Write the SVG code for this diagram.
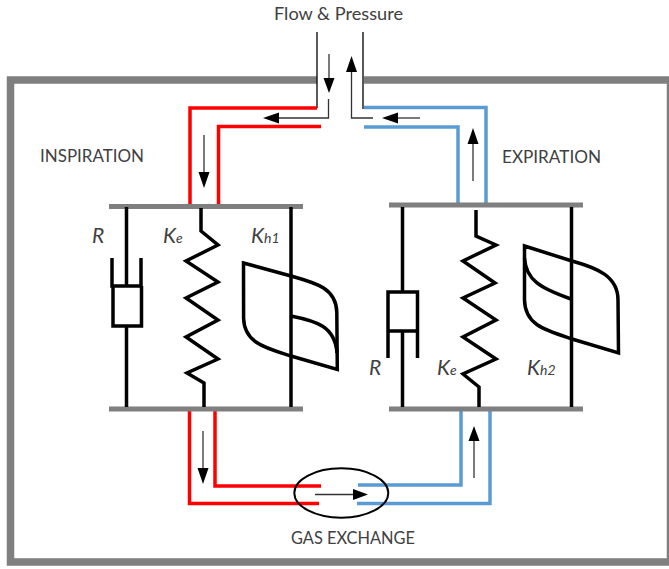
<svg xmlns="http://www.w3.org/2000/svg" width="669" height="569" viewBox="0 0 669 569">
<style>
text{font-family:Lato,"Open Sans","Liberation Sans",sans-serif;fill:#404040;font-size:16.500px}
.sym{font-style:italic;font-size:21px}
.sub{font-style:italic;font-size:14px}
.frame{fill:none;stroke:#7f7f7f;stroke-width:7.500}
.edge{fill:none;stroke:#7f7f7f;stroke-width:2.500}
.bar{fill:none;stroke:#7f7f7f;stroke-width:5}
.red{fill:none;stroke:#ff0000;stroke-width:3.500}
.blue{fill:none;stroke:#5b9bd5;stroke-width:3.500}
.k{fill:none;stroke:#000;stroke-width:3.500;stroke-linejoin:miter}
.thin{fill:none;stroke:#000;stroke-width:1.300}
.ar{fill:none;stroke:#333;stroke-width:1.300}
.hd{fill:#000}
</style>
<rect width="669" height="569" fill="#fff"/>
<g id="frame"><path class="frame" d="M317 80H10.500V562H669"/><path class="frame" d="M364 80H669"/><path class="edge" d="M668 80V562"/></g>
<g id="connectors">
<path class="thin" d="M317 32V108M363 32V109"/>
<path class="red" d="M317 108H190V205"/><path class="red" d="M321 126.500H218.500V205"/>
<path class="blue" d="M364 107.500H486V205"/><path class="blue" d="M364 127H458V204"/>
<path class="red" d="M189.500 411V503.500H319"/><path class="red" d="M215 411V486H321"/>
<path class="blue" d="M358 485H461V410"/><path class="blue" d="M357 503.500H490V410"/>
<path class="ar" d="M329 54V78"/><polygon class="hd" points="329,93 323.500,78 334.500,78"/>
<path class="ar" d="M328.500 99V118H278"/><polygon class="hd" points="263,118 279,112.500 279,123.500"/>
<path class="ar" d="M373 118H351.500V72"/><polygon class="hd" points="351.500,56 346,72 357,72"/>
<path class="ar" d="M420 118H397"/><polygon class="hd" points="382,118 398,112.500 398,123.500"/>
<path class="ar" d="M204 135V172"/><polygon class="hd" points="204,188 198.500,172 209.500,172"/>
<path class="ar" d="M473 181V144"/><polygon class="hd" points="473,128 467.500,144 478.500,144"/>
<path class="ar" d="M203 431V468"/><polygon class="hd" points="203,484 197.500,468 208.500,468"/>
<path class="ar" d="M474 478V441"/><polygon class="hd" points="474,426 468.500,441 479.500,441"/>
<path class="ar" d="M315 494.500H354"/><polygon class="hd" points="368,494.500 353,489 353,500"/>
</g>
<g id="inspiration-element">
<path class="bar" d="M109 206.500H303M109 409H303"/>
<path class="k" d="M126.500 207V285M112 258V286H141V258M113 286V326H141.500V286M126.500 326V407"/>
<path class="k" d="M201 208V231L218 245L186 261L218 282L186 298L218 320L186 337L218 359L187 373L204 383V407"/>
<path class="k" d="M291 207V407"/>
<path class="k" d="M243.500 263L291 276C316 283 336 288 336.800 312L337.300 369.500L291 356C266 348 244 343 243.600 318Z"/>
<path class="k" d="M291 316C316 321 335 326 337 353"/>
</g>
<g id="expiration-element">
<path class="bar" d="M389 205H583M389 409H583"/>
<path class="k" d="M402.500 207V292M388 358V292H417.500V358M388 331H417.500M402.500 331V407"/>
<path class="k" d="M476 210V236L496 245L463 261L495 283L463 298L496 320L463 337L496 359L463 374L479 387V407"/>
<path class="k" d="M571.500 207V407"/>
<path class="k" d="M524.500 246L572 261C597 268 618 276 618 300L618.500 353L572 339C545 330 525 325 524.500 300Z"/>
<path class="k" d="M524.500 258C526 280 540 288 571 299"/>
</g>
<g id="gas-exchange"><ellipse cx="341.300" cy="493" rx="47" ry="24.700" fill="none" stroke="#000" stroke-width="2"/></g>
<g id="labels">
<text x="274" y="20" textLength="129" lengthAdjust="spacingAndGlyphs">Flow &amp; Pressure</text>
<text x="40" y="162" textLength="104" lengthAdjust="spacingAndGlyphs">INSPIRATION</text>
<text x="502" y="163" textLength="99" lengthAdjust="spacingAndGlyphs">EXPIRATION</text>
<text x="291" y="544" textLength="124" lengthAdjust="spacingAndGlyphs">GAS EXCHANGE</text>
<text class="sym" x="92" y="243">R</text>
<text class="sym" x="163" y="243">K<tspan class="sub">e</tspan></text>
<text class="sym" x="251" y="243">K<tspan class="sub">h1</tspan></text>
<text class="sym" x="369" y="375">R</text>
<text class="sym" x="437" y="375">K<tspan class="sub">e</tspan></text>
<text class="sym" x="527" y="375">K<tspan class="sub">h2</tspan></text>
</g>
</svg>
